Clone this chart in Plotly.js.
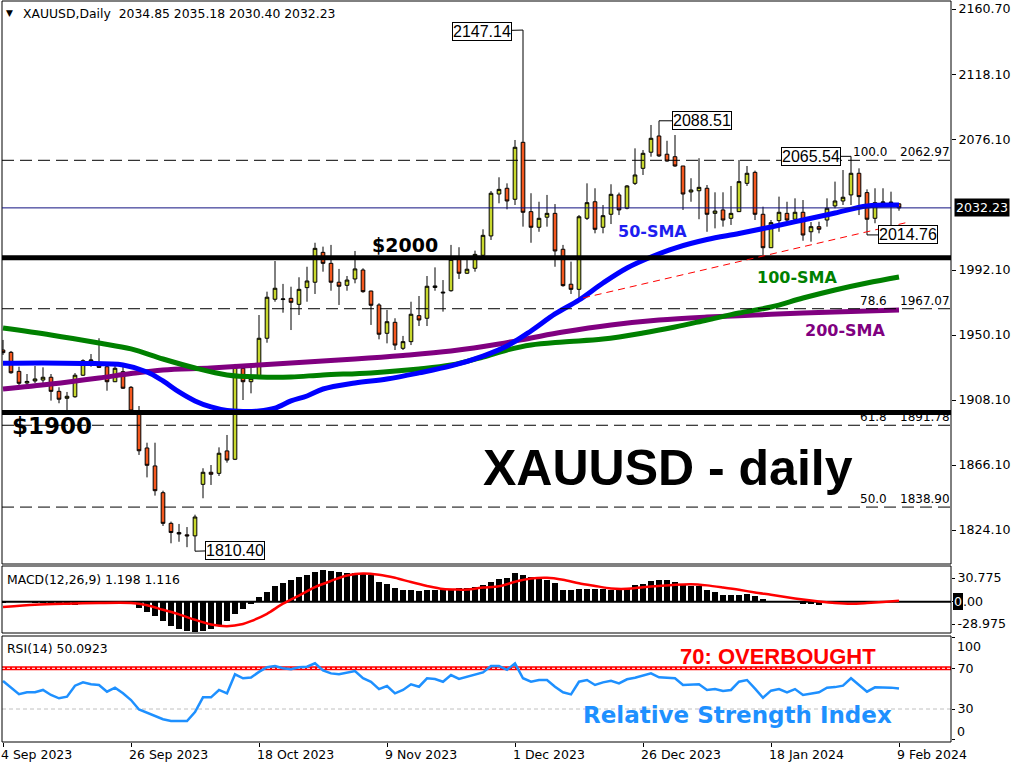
<!DOCTYPE html>
<html>
<head>
<meta charset="utf-8">
<script src="https://cdn.plot.ly/plotly-3.0.1.min.js"></script>
<style>
html,body{margin:0;padding:0;background:#ffffff;}
#chart{width:1024px;height:768px;}
</style>
</head>
<body>
<div id="chart"></div>
<script>
// ---------------- DATA ----------------
const tickIdx = [0, 16, 32, 48, 64, 80, 96, 112];
const tickLabels = ['4 Sep 2023', '26 Sep 2023', '18 Oct 2023', '9 Nov 2023', '1 Dec 2023', '26 Dec 2023', '18 Jan 2024', '9 Feb 2024'];

const openP = [
1940.4,1938.9,1926.6,1919.1,1920.4,1921.0,1922.8,1913.7,1909.2,1910.2,
1924.1,1933.3,1930.1,1929.6,1919.9,1926.4,1916.3,1901.0,1877.1,1865.5,
1848.2,1828.4,1822.5,1821.0,1820.3,1853.6,1861.4,1860.7,1875.2,1869.8,
1928.6,1919.9,1923.2,1948.0,1973.2,1973.0,1973.8,1969.9,1980.7,1984.2,
2003.5,1996.4,1984.2,1982.2,1986.3,1992.1,1978.5,1969.5,1951.2,1958.3,
1941.5,1945.8,1962.6,1960.9,1980.8,1977.2,1978.7,1999.0,1990.0,1993.2,
2001.6,2014.1,2041.2,2044.9,2037.8,2074.6,2029.8,2019.7,2026.2,2028.7,
2005.5,1982.9,1979.6,2025.5,2036.2,2019.7,2028.1,2040.6,2032.0,2048.1,
2057.8,2068.2,2078.7,2066.9,2065.3,2059.3,2042.5,2043.3,2044.9,2028.7,
2030.9,2025.5,2029.8,2048.1,2055.2,2028.1,2006.5,2024.0,2028.7,2024.9,
2029.4,2016.8,2020.1,2024.4,2033.5,2036.7,2040.6,2054.6,2042.1,2025.5,
2035.4,2036.0,2034.85];
const highP = [
1946.9,1939.8,1929.6,1924.9,1930.1,1929.2,1924.9,1916.3,1913.3,1925.5,
1934.4,1937.8,1948.0,1931.8,1930.1,1929.4,1917.1,1904.2,1880.5,1880.5,
1849.5,1829.5,1828.0,1826.0,1834.0,1864.0,1866.1,1877.5,1885.5,1931.4,
1930.7,1931.8,1963.0,1978.1,1997.9,1983.1,1981.3,1987.4,1994.2,2009.7,
2007.2,2008.3,1992.8,1988.2,2004.4,1993.2,1978.7,1970.6,1966.3,1960.9,
1949.5,1971.6,1975.3,1988.2,1993.8,1985.6,2008.3,2006.8,1999.7,2004.6,
2018.4,2043.1,2052.0,2048.1,2076.1,2147.14,2041.7,2036.2,2040.6,2034.7,
2008.3,1997.5,2027.6,2048.1,2044.9,2034.1,2047.5,2042.1,2047.0,2070.7,
2069.6,2085.8,2088.51,2075.6,2079.3,2059.3,2051.4,2064.3,2047.0,2042.3,
2042.3,2046.4,2063.2,2059.3,2056.3,2033.0,2024.4,2039.5,2036.2,2038.4,
2037.3,2023.1,2023.3,2038.4,2049.2,2056.7,2065.54,2057.8,2044.2,2044.9,
2044.9,2042.7,2035.18];
const lowP = [
1937.2,1925.1,1917.8,1917.8,1919.1,1917.8,1907.7,1906.0,1901.6,1909.6,
1923.6,1929.6,1928.8,1914.1,1919.7,1915.2,1900.5,1872.6,1858.1,1846.3,
1826.7,1815.5,1816.5,1813.0,1810.40,1844.6,1853.2,1859.0,1867.6,1869.3,
1908.1,1912.4,1923.2,1945.1,1971.6,1964.5,1953.3,1963.0,1971.6,1976.6,
1991.0,1978.7,1969.5,1978.7,1983.5,1977.4,1956.6,1947.3,1944.7,1940.4,
1940.4,1943.6,1955.9,1955.9,1978.7,1965.2,1978.1,1986.3,1989.5,1991.0,
2001.2,2011.5,2035.2,2031.3,2034.1,2020.1,2009.7,2016.8,2020.1,1994.2,
1981.3,1976.6,1972.7,2024.4,2015.8,2015.8,2021.8,2027.6,2031.3,2047.0,
2053.5,2065.3,2065.1,2062.1,2058.8,2030.9,2036.2,2024.9,2016.8,2019.0,
2020.1,2021.2,2029.6,2046.4,2024.4,2001.8,2006.3,2016.8,2023.1,2023.1,
2011.0,2010.4,2015.8,2020.1,2032.0,2034.1,2034.1,2027.6,2014.76,2022.3,
2034.1,2020.1,2030.40];
const closeP = [
1938.7,1925.7,1918.9,1920.1,1921.7,1922.8,1913.7,1908.6,1910.5,1924.1,
1933.5,1933.9,1929.2,1919.9,1928.6,1915.7,1901.0,1875.3,1865.9,1849.5,
1828.4,1822.5,1821.5,1820.3,1832.5,1861.4,1860.1,1873.7,1869.3,1929.6,
1919.9,1922.1,1948.0,1974.5,1980.3,1973.4,1971.2,1979.6,1985.0,2006.1,
1996.4,1984.2,1981.6,1985.6,1992.8,1978.1,1969.3,1950.6,1958.7,1943.6,
1945.8,1963.5,1959.8,1981.6,1981.8,1977.7,1999.0,1990.0,1992.6,2002.2,
2014.5,2041.7,2044.2,2036.7,2071.4,2029.4,2019.7,2025.5,2028.7,2004.4,
1982.0,1979.6,2026.5,2035.6,2018.4,2027.2,2041.0,2030.9,2046.4,2053.5,
2067.5,2077.2,2065.8,2062.5,2059.3,2041.2,2043.8,2045.5,2028.1,2030.2,
2024.4,2028.7,2049.2,2054.6,2028.1,2006.5,2022.7,2029.4,2024.4,2029.4,
2014.7,2020.1,2018.4,2032.0,2036.7,2039.1,2054.6,2039.5,2024.9,2035.6,
2036.0,2035.7,2032.23];

// moving averages, read at sample bars
const sma50Idx = [0,5,10,15,18,20,22,24,26,28,30,32,34,36,38,40,44,48,52,56,60,63,66,69,72,75,78,81,84,88,92,96,100,104,108,112];
const sma50 = [1931.8,1932.0,1931.7,1930.7,1926.2,1920.4,1913.3,1907.5,1903.6,1901.3,1900.7,1901.0,1902.9,1907.5,1910.7,1915.2,1919.1,1921.7,1925.6,1930.1,1936.5,1943.0,1952.7,1963.7,1972.7,1983.7,1993.4,2000.5,2006.3,2011.8,2015.7,2019.9,2024.4,2028.9,2033.5,2034.1];
const sma100Idx = [0,6,12,16,20,24,28,32,36,40,46,52,56,60,63,66,70,75,80,84,88,92,96,100,104,108,112];
const sma100 = [1954.6,1950.1,1944.9,1941.1,1934.6,1928.8,1924.3,1923.0,1923.0,1924.3,1925.6,1928.1,1930.7,1935.9,1940.4,1943.6,1945.6,1947.5,1951.4,1955.3,1959.8,1964.3,1968.2,1974.0,1979.2,1983.7,1987.6];
const sma200Idx = [0,6,12,16,20,26,32,38,44,50,56,62,66,70,76,82,88,94,100,106,112];
const sma200 = [1915.2,1918.4,1922.3,1925.2,1927.5,1928.8,1930.7,1932.7,1934.6,1936.9,1939.8,1944.3,1948.2,1952.0,1956.6,1959.8,1961.7,1963.0,1964.3,1965.3,1966.3];

// MACD(12,26,9)
const macdHist = [
-1.5,-1,-1,-1,-1.2,-2,-4,-4.5,-4.5,-4,
-3,-1.5,-1,-0.6,-0.6,-1,-2,-7.9,-13.5,-19.2,
-24.5,-31,-35.4,-37.6,-38.9,-37.6,-35.4,-31,-24.5,-15.7,
-9.2,-3.5,6.1,12.7,20,24.5,27.9,32.4,34.5,38.9,
41,40.2,38.9,37.6,37.6,37.6,34.5,25.8,23.6,17.9,
14.8,14.8,14,14.8,15.7,15.7,17,18.3,18.3,19.3,
21.4,25.8,30.1,31.4,36.7,34.5,32.4,30.1,27.9,24.5,
14.8,14.8,17,17,17,16.1,15.7,15.7,18.3,21.4,
23.6,27.1,27.9,27.9,25.8,21.4,20,20,15.7,12.7,
8.3,8.3,9.2,9.6,7.4,3,0.9,0.9,0.8,0.5,
-3.5,-3.5,-4.8,-1.5,-1,-0.5,1.5,1.5,0.5,1.5,
1.5,1.2,1.198];
const macdSigIdx = [0,4,8,12,16,18,20,22,24,26,28,30,31,33,35,37,39,41,43,45,47,49,51,53,55,57,58,60,62,64,66,68,70,72,74,76,78,80,82,84,86,88,90,92,94,96,98,100,102,104,106,108,110,112];
const macdSig = [-7,-4,-2.6,-1.7,-1.7,-4.5,-10.5,-16.5,-23.5,-29.5,-31.8,-29,-25.3,-15.7,-2.6,8,19,27,34,36.7,35,31,25.5,20.5,16.5,15.7,15.7,18.3,20,25.8,30,31,28.5,24,20.5,17.2,16.8,18.8,20.5,22,22.7,21.2,18.5,15.5,12,9,5.8,2.8,0.3,-1.7,-2.6,-1.7,-0.4,1.116];
const macdTicks = [30.775, 0, -28.975];
const macdTickText = ['30.775', '0.00', '-28.975'];

// RSI(14)
const rsi = [
57.5,51,44.5,46.4,46.4,48.7,43.8,40.5,42.1,52.9,
56.2,54.3,53.6,47,50.9,45.4,38.8,29.5,26.5,23.5,
20,18.2,18.2,18.2,27,41.5,41.5,48.7,45.4,64.1,
60.2,61,66.5,71,72.2,70,69,71,71.5,74.9,
68,65,64.1,65.5,67.3,60.2,56.8,49.6,52.6,45.4,
48.7,54.3,51.9,60.2,59.5,56.8,63.4,59.5,61.7,63.5,
66,72.2,72.2,68.5,74.9,60.2,56.8,58.5,58.5,51.9,
46.4,44.4,56.8,58.5,53.6,56.2,57.8,55.2,59.2,60.7,
63,65.1,61.1,60.5,60.2,53.6,54,54.3,48.7,49.6,
47.7,48.7,56.8,58.5,50,41.1,48,49.6,46.4,49.6,
43.8,45,46.4,50.9,51.5,52.9,60.2,53.6,47,51.3,
51.3,51,50.09];
const rsiLevels = [70, 30];

// levels and drawn objects
const priceTicks = [2160.70, 2118.10, 2076.10, 1992.10, 1950.10, 1908.10, 1866.10, 1824.10];
const roundLevels = [2000, 1900];
const roundLabels = ['$2000', '$1900'];
const fibLevels = [2062.97, 1967.07, 1891.78, 1838.90];
const fibPct = ['100.0', '78.6', '61.8', '50.0'];
const markIdx = [65, 82, 106, 108, 24];
const markKind = ['high', 'high', 'high', 'low', 'low'];
const trendIdx = [72.5, 113.4];
const trendVal = [1974.0, 2023.3];

// ---------------- LAYOUT HELPERS (pixel placement only) ----------------
const PLOT_L = 2, PLOT_R = 951, PLOT_T = 1, PLOT_B = 742;
const PX = px => (px - PLOT_L) / (PLOT_R - PLOT_L);
const PY = py => (PLOT_B - py) / (PLOT_B - PLOT_T);
const bars = closeP.map((_, i) => i);
const BULL = '#c8d82e', BEAR = '#f4581f';

const traces = [
  {type: 'candlestick', x: bars, open: openP, high: highP, low: lowP, close: closeP,
   xaxis: 'x', yaxis: 'y', whiskerwidth: 0,
   increasing: {line: {color: '#000000', width: 1}, fillcolor: BULL},
   decreasing: {line: {color: '#000000', width: 1}, fillcolor: BEAR},
   hoverinfo: 'skip', showlegend: false},
  {type: 'scatter', mode: 'lines', x: sma200Idx, y: sma200, xaxis: 'x', yaxis: 'y',
   line: {color: '#800080', width: 5, shape: 'spline', smoothing: 1}, hoverinfo: 'skip'},
  {type: 'scatter', mode: 'lines', x: sma100Idx, y: sma100, xaxis: 'x', yaxis: 'y',
   line: {color: '#008000', width: 5, shape: 'spline', smoothing: 1}, hoverinfo: 'skip'},
  {type: 'scatter', mode: 'lines', x: sma50Idx, y: sma50, xaxis: 'x', yaxis: 'y',
   line: {color: '#0000ff', width: 5, shape: 'spline', smoothing: 1}, hoverinfo: 'skip'},
  {type: 'bar', x: bars, y: macdHist, xaxis: 'x', yaxis: 'y2', width: 0.78,
   marker: {color: '#000000', line: {width: 0}}, hoverinfo: 'skip'},
  {type: 'scatter', mode: 'lines', x: macdSigIdx, y: macdSig, xaxis: 'x', yaxis: 'y2',
   line: {color: '#ff0000', width: 2.5, shape: 'spline', smoothing: 0.8}, hoverinfo: 'skip'},
  {type: 'scatter', mode: 'lines', x: bars, y: rsi, xaxis: 'x', yaxis: 'y3',
   line: {color: '#1e90ff', width: 2.5}, hoverinfo: 'skip'}
];

const last = closeP.length - 1;
const shapes = [];
// panel frames
['y domain', 'y2 domain', 'y3 domain'].forEach(r => shapes.push({
  type: 'rect', xref: 'paper', x0: 0, x1: 1, yref: r, y0: 0, y1: 1,
  line: {color: '#000000', width: 1}, fillcolor: 'rgba(0,0,0,0)'}));
// fib dashed lines
fibLevels.forEach(v => shapes.push({type: 'line', xref: 'paper', x0: 0, x1: 1, yref: 'y', y0: v, y1: v,
  line: {color: '#000000', width: 1, dash: '12px,6px'}}));
// round number lines
roundLevels.forEach(v => shapes.push({type: 'line', xref: 'paper', x0: 0, x1: 1, yref: 'y', y0: v, y1: v,
  line: {color: '#000000', width: 5}}));
// current price line
shapes.push({type: 'line', xref: 'paper', x0: 0, x1: 1, yref: 'y', y0: closeP[last], y1: closeP[last],
  line: {color: '#101080', width: 1}});
// trendline
shapes.push({type: 'line', xref: 'x', yref: 'y', x0: trendIdx[0], x1: trendIdx[1], y0: trendVal[0], y1: trendVal[1],
  line: {color: '#ff0000', width: 1, dash: '7px,5px'}});
// MACD zero line
shapes.push({type: 'line', xref: 'paper', x0: 0, x1: 1, yref: 'y2', y0: 0, y1: 0, layer: 'below',
  line: {color: '#000000', width: 2}});
// RSI levels
shapes.push({type: 'line', xref: 'paper', x0: 0, x1: 1, yref: 'y3', y0: rsiLevels[0], y1: rsiLevels[0], layer: 'below',
  line: {color: '#ff0000', width: 4}});
shapes.push({type: 'line', xref: 'paper', x0: 0, x1: 1, yref: 'y3', y0: rsiLevels[0], y1: rsiLevels[0], layer: 'below',
  line: {color: '#ffffff', width: 1, dash: '3px,2px'}});
shapes.push({type: 'line', xref: 'paper', x0: 0, x1: 1, yref: 'y3', y0: rsiLevels[1], y1: rsiLevels[1], layer: 'below',
  line: {color: '#c0c0c0', width: 1, dash: '4px,3px'}});

const ann = [];
function txt(text, left, cy, size, color, family) {
  ann.push({xref: 'paper', yref: 'paper', x: PX(left - 2), y: PY(cy), xanchor: 'left', yanchor: 'middle',
    text: text, showarrow: false, font: {family: family || 'DejaVu Sans', size: size, color: color || '#000000'}});
}
// header
txt('\u25BC', 6, 13, 9);
txt('XAUUSD,Daily\u00a0\u00a0' + [openP[last], highP[last], lowP[last], closeP[last]].map(v => v.toFixed(2)).join(' '), 23, 13, 12.4);
txt('MACD(12,26,9) ' + macdHist[last].toFixed(3) + ' ' + macdSig[macdSig.length - 1].toFixed(3), 7, 579, 12.4);
txt('RSI(14) 50.0923', 7, 648.5, 12.4);
// big labels
txt('<b>' + roundLabels[0] + '</b>', 372, 245, 19);
txt('<b>' + roundLabels[1] + '</b>', 12, 426, 23);
txt('<b>XAUUSD - daily</b>', 483, 468, 50, '#000000', 'Liberation Sans');
txt('<b>50-SMA</b>', 618, 231, 16, '#1e1ef0');
txt('<b>100-SMA</b>', 757, 277, 16, '#008000');
txt('<b>200-SMA</b>', 805, 330, 16, '#800080');
txt('<b>70: OVERBOUGHT</b>', 680, 656.5, 22, '#ff0000', 'Liberation Sans');
txt('<b>Relative Strength Index</b>', 583, 715, 23, '#1e90ff');
// fib labels
fibLevels.forEach((v, k) => {
  ann.push({xref: 'paper', yref: 'y', x: PX(889), y: v, yshift: 8, xanchor: 'right', yanchor: 'middle',
    text: fibPct[k], showarrow: false, font: {family: 'DejaVu Sans', size: 12, color: '#000'}});
  ann.push({xref: 'paper', yref: 'y', x: PX(952), y: v, yshift: 8, xanchor: 'right', yanchor: 'middle',
    text: v.toFixed(2), showarrow: false, font: {family: 'DejaVu Sans', size: 12, color: '#000'}});
});
// high / low value boxes
const markOffsets = [[-41, 1], [43, 0], [-40, 0], [41, 0], [40, -1]];
markIdx.forEach((i, k) => {
  const v = markKind[k] === 'high' ? highP[i] : lowP[i];
  ann.push({xref: 'x', yref: 'y', x: i, y: v, ax: markOffsets[k][0], ay: markOffsets[k][1],
    text: v.toFixed(2), showarrow: true, arrowhead: 0, arrowwidth: 1, arrowcolor: '#000', standoff: 0,
    bordercolor: '#000', borderwidth: 1, borderpad: 0, bgcolor: '#ffffff',
    font: {family: 'Liberation Sans', size: 16, color: '#000'}});
});
// current price box on the right axis
ann.push({xref: 'paper', yref: 'y', x: PX(954), y: closeP[last], xanchor: 'left', yanchor: 'middle',
  text: closeP[last].toFixed(2), showarrow: false, bgcolor: '#000000', borderpad: 1,
  font: {family: 'DejaVu Sans', size: 12.6, color: '#ffffff'}});
// MACD zero label: current-value marker box over the first digit, then the rest
ann.push({xref: 'paper', yref: 'y2', x: PX(952.7), y: 0, xanchor: 'left', yanchor: 'middle',
  text: macdTickText[1].slice(0, 1), showarrow: false, bgcolor: '#000000', borderpad: 1, borderwidth: 0,
  font: {family: 'DejaVu Sans', size: 12.6, color: '#ffffff'}});
ann.push({xref: 'paper', yref: 'y2', x: PX(963), y: 0, xanchor: 'left', yanchor: 'middle',
  text: macdTickText[1].slice(1), showarrow: false, borderpad: 0, borderwidth: 0,
  font: {family: 'DejaVu Sans', size: 12.6, color: '#000000'}});
// RSI end labels (placed inside the window like the terminal does)
ann.push({xref: 'paper', yref: 'paper', x: PX(955), y: PY(646.7), xanchor: 'left', yanchor: 'middle',
  text: '100', showarrow: false, font: {family: 'DejaVu Sans', size: 12.6, color: '#000'}});
ann.push({xref: 'paper', yref: 'paper', x: PX(955), y: PY(731.7), xanchor: 'left', yanchor: 'middle',
  text: '0', showarrow: false, font: {family: 'DejaVu Sans', size: 12.6, color: '#000'}});
// x labels, left aligned at the separators
tickIdx.forEach((i, k) => ann.push({xref: 'x', yref: 'paper', x: i, y: 0, xanchor: 'left', yanchor: 'top',
  xshift: -4, yshift: -3, text: tickLabels[k], showarrow: false,
  font: {family: 'DejaVu Sans', size: 12.5, color: '#000'}}));

const axFont = {family: 'DejaVu Sans', size: 12.6, color: '#000000'};
const layout = {
  width: 1024, height: 768,
  margin: {l: PLOT_L, r: 1024 - PLOT_R, t: PLOT_T, b: 768 - PLOT_B, pad: 0},
  paper_bgcolor: '#ffffff', plot_bgcolor: '#ffffff',
  showlegend: false, hovermode: false, boxgap: 0.35, bargap: 0,
  font: {family: 'DejaVu Sans', color: '#000'},
  xaxis: {domain: [0, 1], anchor: 'y3', range: [-0.125, 118.5], showgrid: false, zeroline: false,
    tickvals: tickIdx, ticks: 'outside', ticklen: 4, tickcolor: '#000', showticklabels: false,
    rangeslider: {visible: false}, fixedrange: true},
  yaxis: {domain: [PY(564), 1], anchor: 'x', side: 'right', range: [1802.13, 2165.91],
    tickvals: priceTicks, ticktext: priceTicks.map(v => v.toFixed(2)), ticks: 'outside', ticklen: 4,
    tickcolor: '#000', tickfont: axFont, showgrid: false, zeroline: false, fixedrange: true},
  yaxis2: {domain: [PY(633), PY(566)], anchor: 'x', side: 'right', range: [-40.66, 46.37],
    tickvals: macdTicks, ticktext: [macdTickText[0], '', macdTickText[2]], ticks: 'outside', ticklen: 3,
    tickcolor: '#000', tickfont: axFont, showgrid: false, zeroline: false, fixedrange: true},
  yaxis3: {domain: [0, PY(636)], anchor: 'x', side: 'right', range: [-2.43, 101.74],
    tickvals: [100, 70, 30, 0], ticktext: ['', '70', '30', ''], ticks: 'outside', ticklen: 3,
    tickcolor: '#000', tickfont: axFont, showgrid: false, zeroline: false, fixedrange: true},
  shapes: shapes,
  annotations: ann
};

Plotly.newPlot('chart', traces, layout, {staticPlot: true, displayModeBar: false});
</script>
</body>
</html>
